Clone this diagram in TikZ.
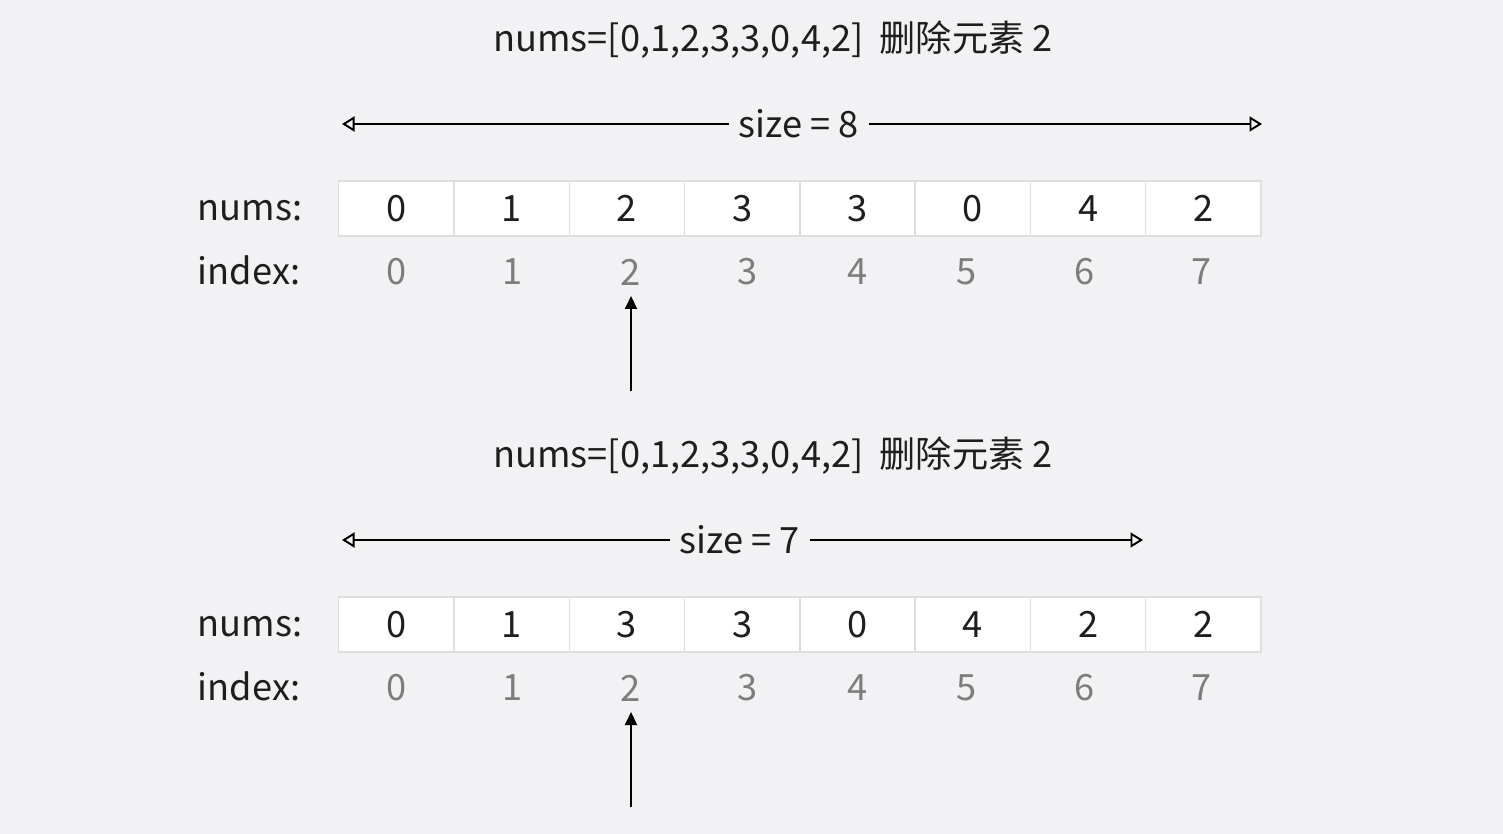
\documentclass[tikz,border=0pt]{standalone}
\usepackage{fontspec}
\setmainfont{Noto Sans CJK SC}
\usetikzlibrary{arrows.meta}
\usepackage{xcolor}
\definecolor{bg}{RGB}{242,242,244}
\definecolor{cellline}{RGB}{222,222,224}
\definecolor{idxgray}{RGB}{125,125,125}
\definecolor{ink}{RGB}{30,30,30}
\tikzset{
  cell/.style={draw=cellline, fill=white, line width=0.8pt, minimum width=2.306cm, minimum height=1.1cm, inner sep=0pt},
  idx/.style={text=idxgray},
  szlabel/.style={fill=bg, inner sep=0.2cm},
  szarrow/.style={line width=1.1pt, -{Triangle[open, length=0.25cm, width=0.3cm]}},
  ptr/.style={line width=1.1pt, -{Triangle[length=0.26cm, width=0.24cm]}}
}

\begin{document}
\begin{tikzpicture}[x=0.02cm, y=-0.02cm, text=ink, font=\fontsize{20.6}{25}\selectfont]
    \fill[bg] (0,0) rectangle (1503,834);
    % before removal
    \node (t1) at (773,40) {nums=[0,1,2,3,3,0,4,2]\hspace{0.45em}删除元素 2};
    \node[szlabel] (s1) at (799,124) {size = 8};
    \coordinate (l1) at (342,124);
    \coordinate (r1) at (1262,124);
    \draw[szarrow] (s1) -- (l1);
    \draw[szarrow] (s1) -- (r1);
    \node (n1) at (250,211) {nums:};
    \node (x1) at (249,270) {index:};
    \foreach \v [count=\i from 0] in {0,1,2,3,3,0,4,2}
        \node[cell] (a1-\i) at ({396.3+115.3*\i},208.5) {\v};
    \foreach \x [count=\i from 0] in {397,513,631,748,858,967,1085,1202}
        \node[idx] (i1-\i) at (\x,272) {\i};
    \coordinate (p1) at (631,391);
    \coordinate (q1) at (631,296);
    \draw[ptr] (p1) -- (q1);
    % after removal
    \node (t2) at (773,456) {nums=[0,1,2,3,3,0,4,2]\hspace{0.45em}删除元素 2};
    \node[szlabel] (s2) at (740,540) {size = 7};
    \coordinate (l2) at (342,540);
    \coordinate (r2) at (1143,540);
    \draw[szarrow] (s2) -- (l2);
    \draw[szarrow] (s2) -- (r2);
    \node (n2) at (250,627) {nums:};
    \node (x2) at (249,686) {index:};
    \foreach \v [count=\i from 0] in {0,1,3,3,0,4,2,2}
        \node[cell] (a2-\i) at ({396.3+115.3*\i},624.5) {\v};
    \foreach \x [count=\i from 0] in {397,513,631,748,858,967,1085,1202}
        \node[idx] (i2-\i) at (\x,688) {\i};
    \coordinate (p2) at (631,807);
    \coordinate (q2) at (631,712);
    \draw[ptr] (p2) -- (q2);
\end{tikzpicture}
\end{document}
